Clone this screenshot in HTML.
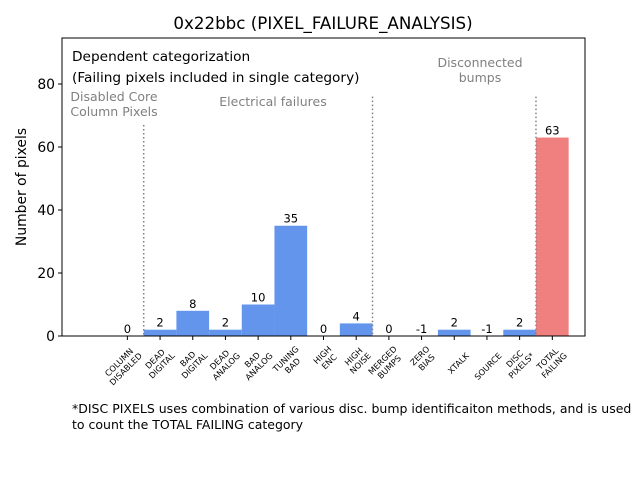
<!DOCTYPE html>
<html><head><meta charset="utf-8"><style>body{margin:0;background:#fff}svg{display:block}text{font-family:"DejaVu Sans","Liberation Sans",sans-serif}</style></head>
<body>
<svg id="chart" width="640" height="480" xmlns="http://www.w3.org/2000/svg">
<text x="323" y="29" font-size="16.7" text-anchor="middle">0x22bbc (PIXEL_FAILURE_ANALYSIS)</text>
<g id="plot"></g>
<rect x="62" y="38" width="523" height="298" fill="none" stroke="#000" stroke-width="1"/>
<text transform="translate(26,187) rotate(-90)" font-size="13.9" text-anchor="middle">Number of pixels</text>
<text x="72" y="61" font-size="13.7">Dependent categorization</text>
<text x="72" y="82" font-size="13.7">(Failing pixels included in single category)</text>
<text x="114" y="101" font-size="12.5" fill="#808080" text-anchor="middle">Disabled Core<tspan x="114" dy="15">Column Pixels</tspan></text>
<text x="273" y="106" font-size="12.5" fill="#808080" text-anchor="middle">Electrical failures</text>
<text x="480" y="67" font-size="12.5" fill="#808080" text-anchor="middle">Disconnected<tspan x="480" dy="15">bumps</tspan></text>
<text x="72" y="413" font-size="12.5">*DISC PIXELS uses combination of various disc. bump identificaiton methods, and is used<tspan x="72" dy="16">to count the TOTAL FAILING category</tspan></text>
</svg>
<script>
const categories = [["COLUMN","DISABLED"],["DEAD","DIGITAL"],["BAD","DIGITAL"],["DEAD","ANALOG"],["BAD","ANALOG"],["TUNING","BAD"],["HIGH","ENC"],["HIGH","NOISE"],["MERGED","BUMPS"],["ZERO","BIAS"],["XTALK"],["SOURCE"],["DISC","PIXELS*"],["TOTAL","FAILING"]];
const values = [0,2,8,2,10,35,0,4,0,-1,2,-1,2,63];
const yTicks = [0,20,40,60,80];
const separators = [0.5,7.5,12.5];
const sepTops = [67,76,76];
const NS="http://www.w3.org/2000/svg";
const X0=62,X1=585,Y0=336,Y1=38,xMin=-2,xMax=14,yMin=0,yMax=94.6;
const xs=i=>X0+(i-xMin)*(X1-X0)/(xMax-xMin);
const ys=v=>Y0-(v-yMin)*(Y0-Y1)/(yMax-yMin);
const bw=(X1-X0)/(xMax-xMin);
const g=document.getElementById('plot');
function mk(t,a){const e=document.createElementNS(NS,t);for(const k in a)e.setAttribute(k,a[k]);g.appendChild(e);return e;}
values.forEach((v,i)=>{
  const top=ys(Math.max(v,0)),h=Math.max(0,Y0-top);
  const r=mk('rect',{x:xs(i)-bw/2,y:top,width:bw,height:h,fill:i===values.length-1?'#f08080':'#6495ed'});
  
  
  const t=mk('text',{x:xs(i),y:top-3,'font-size':11.5,'text-anchor':'middle'});
  t.textContent=v;
  
  
  const tk=mk('line',{x1:xs(i),x2:xs(i),y1:Y0,y2:Y0+4,stroke:'#000'});
  
  
  const lab=categories[i];
  const lt=mk('text',{transform:`translate(${xs(i)+11},${Y0+16}) rotate(-45)`,'font-size':8.3,'text-anchor':'middle'});
  
  
  const spans=lab.map((s,k)=>{const sp=document.createElementNS(NS,'tspan');sp.textContent=s;sp.setAttribute('y',(k-(lab.length-1))*9.5+6);lt.appendChild(sp);return sp;});
  const w=Math.max(...spans.map(s=>s.getComputedTextLength()));
  spans.forEach(s=>s.setAttribute('x',-w/2));
});
separators.forEach((s,k)=>{
  const l=mk('line',{x1:xs(s),x2:xs(s),y1:ys(sepTops[k]),y2:Y0,stroke:'#808080','stroke-width':1.5,'stroke-dasharray':'1.5,2.5'});
  
  
});
yTicks.forEach(v=>{
  const l=mk('line',{x1:X0-4,x2:X0,y1:ys(v),y2:ys(v),stroke:'#000'});
  
  
  const t=mk('text',{x:X0-7,y:ys(v)+5,'font-size':13.9,'text-anchor':'end'});
  t.textContent=v;
  
  
});
</script>
</body></html>
